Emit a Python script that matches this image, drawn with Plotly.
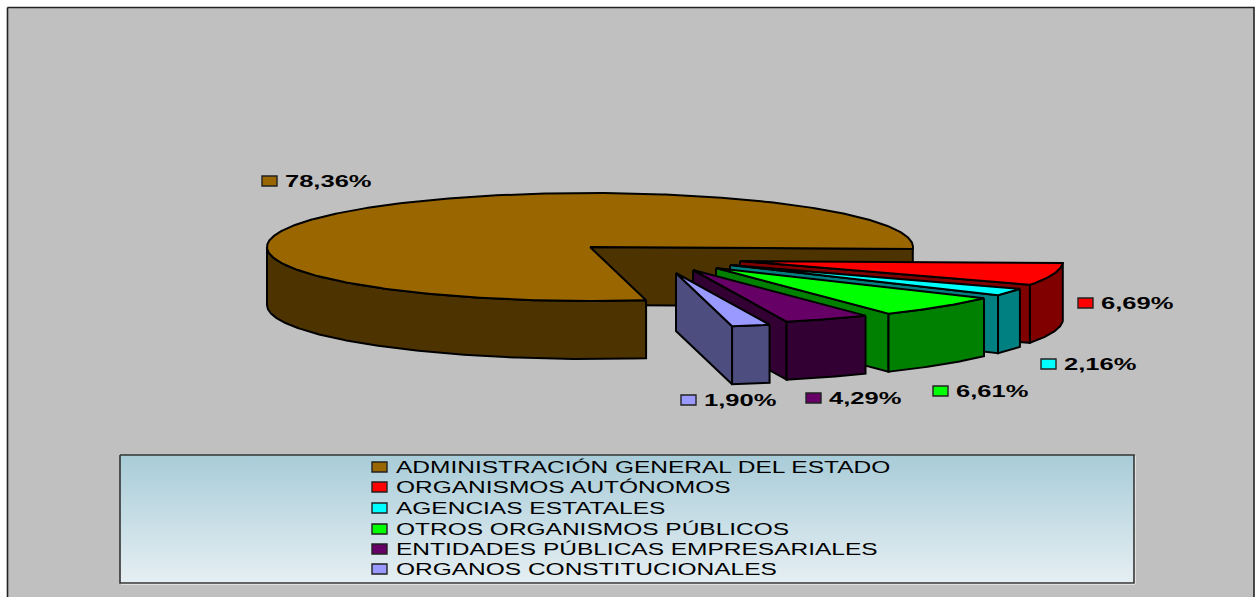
import numpy as np
import plotly.graph_objects as go

# ---- data ----
categories = ["ADMINISTRACIÓN GENERAL DEL ESTADO", "ORGANISMOS AUTÓNOMOS", "AGENCIAS ESTATALES",
              "OTROS ORGANISMOS PÚBLICOS", "ENTIDADES PÚBLICAS EMPRESARIALES", "ORGANOS CONSTITUCIONALES"]
values = [78.36, 6.69, 2.16, 6.61, 4.29, 1.90]
value_labels = ["78,36%", "6,69%", "2,16%", "6,61%", "4,29%", "1,90%"]

# ---- styles ----
top_colors = ["#996600", "#FF0000", "#00FFFF", "#00FF00", "#660066", "#9999FF"]
side_colors = ["#4D3300", "#800000", "#008080", "#008000", "#330033", "#4D4D80"]
explode_dx = [0, 150, 140, 126, 103, 86]
explode_dy = [0, 14, 18, 21, 23, 26]
label_key_x = [262, 1078, 1041, 933, 806, 681]
label_y = [181, 303, 364, 391, 398, 400]
legend_y = [467, 487, 508, 529, 549, 569]

CX, CY, RX, RY, DEPTH = 590, 247, 323, 54, 58
START_ANGLE = 170.0
TEXT_DY = 2
OUT = "#000000"

fig = go.Figure()


def poly(xs, ys, fill, line=OUT, width=2):
    fig.add_trace(go.Scatter(x=list(xs), y=list(ys), mode="lines", fill="toself", fillcolor=fill,
                             line=dict(color=line, width=width), hoverinfo="skip", showlegend=False))


def arc(a0, a1, cx, cy):
    t = np.radians(np.linspace(a0, a1, max(int(abs(a1 - a0) * 2), 2) + 1))
    return cx + RX * np.sin(t), cy - RY * np.cos(t)


def wedge(i, a0, a1):
    cx, cy = CX + explode_dx[i], CY + explode_dy[i]
    # wall on the clockwise end of the slice
    ex, ey = arc(a1, a1, cx, cy)
    poly([cx, ex[-1], ex[-1], cx, cx], [cy, ey[-1], ey[-1] + DEPTH, cy + DEPTH, cy], side_colors[i])
    # outer rim (front-facing part only)
    lo, hi = max(a0, 90), min(a1, 270)
    if i == 0:
        lo, hi = a0, 270
    ax, ay = arc(lo, hi, cx, cy)
    poly(np.r_[ax, ax[::-1], ax[0]], np.r_[ay, ay[::-1] + DEPTH, ay[0]], side_colors[i])
    # top face
    tx, ty = arc(a0, a1, cx, cy)
    poly(np.r_[cx, tx, cx], np.r_[cy, ty, cy], top_colors[i])


# chart background
poly([7.5, 1254, 1254, 7.5, 7.5], [7.5, 7.5, 640, 640, 7.5], "#C0C0C0", line="#222222", width=1.6)

# slices, back to front; angles come from the values
angles = START_ANGLE + np.r_[0, np.cumsum(values)] * 360.0 / sum(values)
for i in range(len(values)):
    a0, a1 = angles[i], angles[i + 1]
    if i > 0:
        a0, a1 = a0 - 360, a1 - 360
    wedge(i, a0, a1)

# legend box
LX0, LX1, LY0, LY1 = 120, 1134, 455, 583
poly([LX0 + 1, LX1 + 1, LX1 + 1, LX0 + 1, LX0 + 1], [LY0 + 1, LY0 + 1, LY1 + 1, LY1 + 1, LY0 + 1],
     "#FFFFFF", line="#FFFFFF", width=1)
fig.add_trace(go.Scatter(x=[LX0, LX1, LX1, LX0, LX0], y=[LY0, LY0, LY1, LY1, LY0], mode="lines", fill="toself",
                         fillgradient=dict(type="vertical",
                                           colorscale=[[0, "#E6EFF3"], [1, "#A8CCD8"]]),
                         line=dict(color="#333333", width=1.6), hoverinfo="skip", showlegend=False))

shapes = []


def key(x, yc, color):
    shapes.append(dict(type="rect", xref="x", yref="y", x0=x, x1=x + 15, y0=yc - 5, y1=yc + 5,
                       fillcolor=color, line=dict(color="#222222", width=1.4), layer="above"))


for i in range(len(categories)):
    key(372, legend_y[i], top_colors[i])
    key(label_key_x[i], label_y[i], top_colors[i])

fig.add_trace(go.Scatter(x=[396] * len(categories), y=[y + TEXT_DY for y in legend_y], text=categories, mode="text",
                         textposition="middle right", hoverinfo="skip", showlegend=False,
                         textfont=dict(family="Liberation Sans", size=16, color="#000000")))
fig.add_trace(go.Scatter(x=[x + 23 for x in label_key_x], y=[y + TEXT_DY for y in label_y], text=value_labels,
                         mode="text", textposition="middle right", hoverinfo="skip", showlegend=False,
                         textfont=dict(family="Liberation Sans", size=17, color="#000000", weight="bold")))

fig.update_layout(
    width=1259, height=597, margin=dict(l=0, r=0, t=0, b=0),
    paper_bgcolor="#FFFFFF", plot_bgcolor="#FFFFFF", showlegend=False,
    xaxis=dict(range=[0, 1259], visible=False, fixedrange=True),
    yaxis=dict(range=[597, 0], visible=False, fixedrange=True),
    shapes=shapes,
)

# the reference's text is stretched horizontally
post = """
document.body.style.margin = '0';
document.querySelectorAll('.textpoint text').forEach(function (t) {
  var bold = String(t.style.fontWeight) === 'bold' || Number(t.style.fontWeight) >= 700;
  var scale = bold ? 1.5 : 1.53;
  t.setAttribute('lengthAdjust', 'spacingAndGlyphs');
  t.setAttribute('textLength', t.getComputedTextLength() * scale);
});
"""
fig.write_html("out.html", config={"displayModeBar": False}, post_script=post)
